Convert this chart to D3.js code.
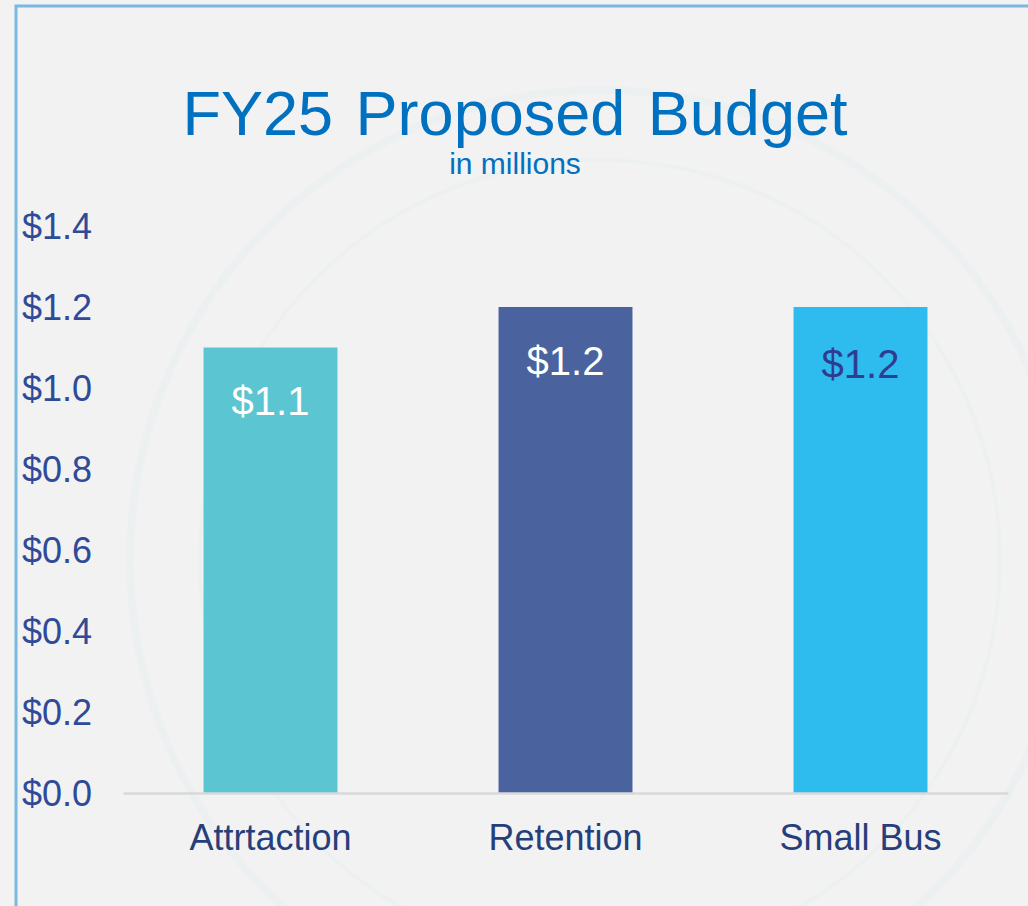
<!DOCTYPE html>
<html>
<head>
<meta charset="utf-8">
<script src="https://cdn.jsdelivr.net/npm/d3@7"></script>
<style>
  html, body { margin: 0; padding: 0; background: #f2f2f2; }
  svg { display: block; font-family: "Liberation Sans", Arial, sans-serif; }
</style>
</head>
<body>
<div id="chart"></div>
<script>
const categories = ["Attrtaction", "Retention", "Small Bus"];
const budget = [1.1, 1.2, 1.2];
const yTicks = [0, 0.2, 0.4, 0.6, 0.8, 1.0, 1.2, 1.4];
const barColors = ["#5bc6d1", "#4a639e", "#2ebbee"];
const labelColors = ["#ffffff", "#ffffff", "#2e3d8f"];

const width = 1028;
const height = 906;
const margin = { top: 226, right: 20, bottom: 113, left: 123 };
const innerWidth = 1008 - margin.left;
const innerHeight = 793 - margin.top;

const svg = d3.select("#chart")
  .append("svg")
    .attr("width", width)
    .attr("height", height)
    .attr("viewBox", [0, 0, width, height]);

svg.append("rect")
  .attr("width", width)
  .attr("height", height)
  .attr("fill", "#f2f2f2");

// faint seal watermark in the background
const seal = svg.append("g")
  .attr("fill", "none")
  .attr("stroke", "#edf0f1");
seal.append("circle")
  .attr("cx", 600).attr("cy", 560).attr("r", 470)
  .attr("stroke-width", 8);
seal.append("circle")
  .attr("cx", 600).attr("cy", 560).attr("r", 400)
  .attr("stroke-width", 4);

// slide frame
svg.append("path")
  .attr("d", `M16,${height} V6 H${width}`)
  .attr("fill", "none")
  .attr("stroke", "#7ab8df")
  .attr("stroke-width", 3);

const xScale = d3.scaleBand()
  .domain(categories)
  .range([0, innerWidth])
  .paddingInner(0.546)
  .paddingOuter(0.273);

const yScale = d3.scaleLinear()
  .domain([0, 1.4])
  .range([innerHeight, 0]);

const innerChart = svg
  .append("g")
    .attr("transform", `translate(${margin.left}, ${margin.top})`);

// bars
innerChart
  .append("g")
    .attr("class", "bars")
  .selectAll("rect")
  .data(budget)
  .join("rect")
    .attr("x", (d, i) => xScale(categories[i]))
    .attr("y", d => yScale(d))
    .attr("width", xScale.bandwidth())
    .attr("height", d => innerHeight - yScale(d))
    .attr("fill", (d, i) => barColors[i]);

// value labels inside the bars
innerChart
  .append("g")
  .selectAll("text")
  .data(budget)
  .join("text")
    .attr("x", (d, i) => xScale(categories[i]) + xScale.bandwidth() / 2)
    .attr("y", (d, i) => yScale(d) + (i === 2 ? 60 : 57))
    .attr("dominant-baseline", "middle")
    .attr("text-anchor", "middle")
    .attr("fill", (d, i) => labelColors[i])
    .style("font-size", "40px")
    .text(d => `$${d.toFixed(1)}`);

// x axis
const bottomAxis = d3.axisBottom(xScale)
  .tickSize(0)
  .tickPadding(22);
const xAxis = innerChart
  .append("g")
    .attr("class", "axis axis-x")
    .attr("transform", `translate(0, ${innerHeight})`)
    .call(bottomAxis);
xAxis.select(".domain")
  .attr("stroke", "#d9d9d9")
  .attr("stroke-width", 2.5);
xAxis.selectAll("text")
  .attr("fill", "#263f7a")
  .style("font-size", "36px")
  .attr("dominant-baseline", "middle")
  .attr("dy", "0.7em");

// y axis labels (no line)
const leftAxis = d3.axisLeft(yScale)
  .tickValues(yTicks)
  .tickSize(0)
  .tickPadding(0)
  .tickFormat(d => `$${d.toFixed(1)}`);
const yAxis = innerChart
  .append("g")
    .attr("class", "axis axis-y")
    .attr("transform", `translate(${92 - margin.left}, 0)`)
    .call(leftAxis);
yAxis.select(".domain").remove();
yAxis.selectAll("text")
  .attr("fill", "#2f4a98")
  .style("font-size", "36px")
  .attr("dy", "0.35em");

// titles
svg.append("text")
  .attr("x", 515)
  .attr("y", 135)
  .attr("text-anchor", "middle")
  .attr("fill", "#0070c0")
  .style("font-size", "63px")
  .style("word-spacing", "5px")
  .text("FY25 Proposed Budget");

svg.append("text")
  .attr("x", 515)
  .attr("y", 174)
  .attr("text-anchor", "middle")
  .attr("fill", "#0070c0")
  .style("font-size", "30px")
  .text("in millions");
</script>
</body>
</html>
